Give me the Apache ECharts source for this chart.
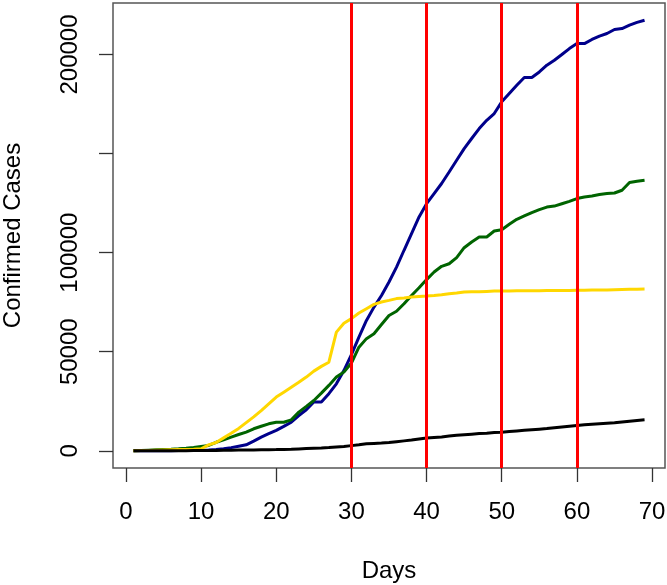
<!DOCTYPE html>
<html>
<head>
<meta charset="utf-8">
<script src="https://cdn.jsdelivr.net/npm/echarts@6/dist/echarts.min.js"></script>
<style>
html,body{margin:0;padding:0;background:#fff;}
#chart{width:667px;height:585px;}
</style>
</head>
<body>
<div id="chart"></div>
<script>
var days = [1,2,3,4,5,6,7,8,9,10,11,12,13,14,15,16,17,18,19,20,21,22,23,24,25,26,27,28,29,30,31,32,33,34,35,36,37,38,39,40,41,42,43,44,45,46,47,48,49,50,51,52,53,54,55,56,57,58,59,60,61,62,63,64,65,66,67,68,69];

var blueCases = [0,0,0,0,0,50,100,150,200,300,
  400,600,1000,1600,2300,3000,4900,6900,8600,10300,
  12300,14400,17800,20700,24600,24600,28800,33800,40500,48500,
  57400,65800,72500,78400,85200,92700,101200,109600,118000,124700,
  129800,134900,140700,146600,152500,157600,162600,166800,170200,176100,
  180300,184500,188400,188400,191200,194600,197100,200000,203000,205500,
  205500,207600,209300,210600,212600,213100,214800,216200,217300];

var greenCases = [0,100,300,500,650,800,1000,1300,1700,2200,
  2700,4300,5500,6900,8200,9400,11100,12400,13600,14400,
  14400,15600,19500,22400,25400,29100,33000,37200,39700,44300,
  52300,56600,59100,63700,68300,70400,74200,78400,82300,86400,
  90200,93100,94400,97500,102500,105400,107900,107900,110900,111600,
  114300,116800,118500,120200,121700,123000,123500,124700,125900,127300,
  128100,128600,129300,129800,130100,131500,135400,136000,136500];

var yellowCases = [0,100,200,300,400,500,600,700,800,1000,
  3000,4200,6500,8800,11300,14200,17100,20300,23700,27100,
  29600,32100,34600,37200,40200,42600,44700,59900,64400,66700,
  69500,71700,73900,75100,75900,76800,77100,77600,77900,78100,
  78400,78800,79300,79600,80100,80200,80200,80400,80600,80700,
  80700,80800,80800,80800,80800,80900,80900,80900,80900,81000,
  81000,81100,81100,81200,81300,81400,81500,81500,81600];

var blackCases = [0,0,0,5,10,20,30,50,80,100,
  150,200,250,300,350,400,450,500,550,600,
  700,800,950,1100,1250,1400,1600,1900,2200,2600,
  3000,3500,3700,3900,4200,4600,5000,5400,5900,6400,
  6700,7000,7400,7800,8100,8400,8700,8900,9200,9400,
  9700,10000,10300,10600,10900,11200,11600,12000,12400,12800,
  13100,13400,13700,13900,14100,14500,14900,15300,15600];

var xTicks = [0,10,20,30,40,50,60,70];
var yTicks = [0,50000,100000,150000,200000];
var yLabels = [0,50000,100000,200000];
var vLines = [30,40,50,60];

function pairs(ys){ return days.map(function(d,i){ return [d, ys[i]]; }); }

// R-style 4% axis extension
var xMinD = Math.min.apply(null, days), xMaxD = Math.max.apply(null, days);
var xExt = (xMaxD - xMinD) * 0.04;
var allY = blueCases.concat(greenCases, yellowCases, blackCases);
var yMinD = Math.min.apply(null, allY), yMaxD = Math.max.apply(null, allY);
var yExt = (yMaxD - yMinD) * 0.04;

var font = 'Liberation Sans, Arial, sans-serif';
var tickStyle = {color:'#333', width:1.3};
var fs = 24;

function lineSeries(ys, color){
  return {type:'line', data:pairs(ys), showSymbol:false, symbol:'none', silent:true,
    lineStyle:{color:color, width:3}, itemStyle:{color:color}, animation:false};
}
function plain(v){ return String(v); }

var chart = echarts.init(document.getElementById('chart'), null, {renderer:'canvas'});
chart.setOption({
  backgroundColor:'#fff',
  animation:false,
  grid:{left:113, right:2, top:3, bottom:117, show:true, borderColor:'#555', borderWidth:1.5,
    backgroundColor:'transparent', containLabel:false, outerBoundsMode:'none'},
  xAxis:{type:'value', min:xMinD - xExt, max:xMaxD + xExt,
    name:'Days', nameLocation:'middle', nameGap:91,
    nameTextStyle:{fontSize:fs, color:'#000', fontFamily:font},
    axisLine:{show:false, onZero:false}, splitLine:{show:false},
    axisTick:{show:true, customValues:xTicks, length:14, inside:false, lineStyle:tickStyle},
    axisLabel:{customValues:xTicks, fontSize:fs, color:'#000', fontFamily:font, margin:32, formatter:plain}},
  yAxis:{type:'value', min:yMinD - yExt, max:yMaxD + yExt,
    name:'Confirmed Cases', nameLocation:'middle', nameGap:88, nameRotate:90,
    nameTextStyle:{fontSize:fs, color:'#000', fontFamily:font},
    axisLine:{show:false, onZero:false}, splitLine:{show:false},
    axisTick:{show:true, customValues:yTicks, length:14, inside:false, lineStyle:tickStyle},
    axisLabel:{customValues:yLabels, fontSize:fs, color:'#000', fontFamily:font, margin:31, rotate:90, formatter:plain}},
  series:[
    lineSeries(blueCases, '#00008B'),
    lineSeries(greenCases, '#006400'),
    lineSeries(yellowCases, '#FFD700'),
    lineSeries(blackCases, '#000000'),
    {type:'line', data:[], silent:true, z:10,
      markLine:{silent:true, symbol:['none','none'], animation:false, label:{show:false},
        lineStyle:{color:'#FF0000', width:3, type:'solid'},
        data:vLines.map(function(v){ return {xAxis:v}; })}}
  ]
});
</script>
</body>
</html>
